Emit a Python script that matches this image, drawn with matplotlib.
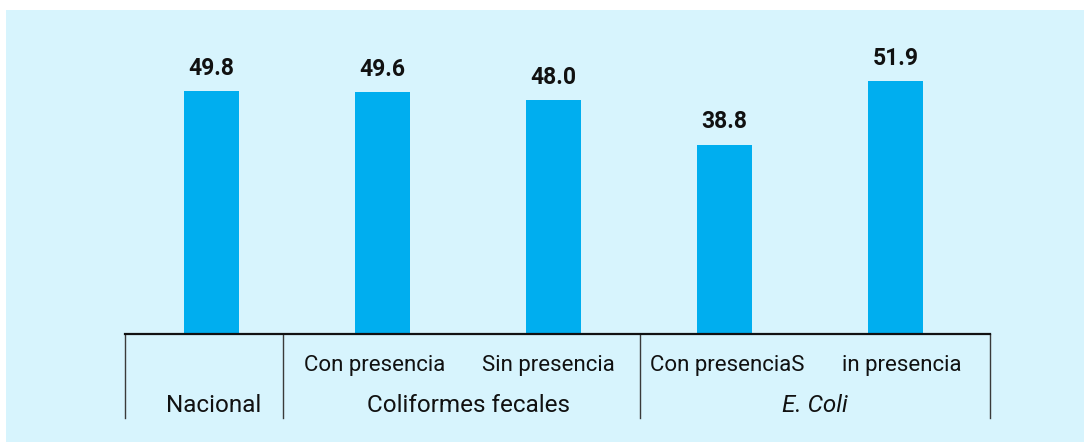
import matplotlib
matplotlib.use('Agg')
from matplotlib import pyplot as plt
from matplotlib.patches import Rectangle

plt.rcParams['font.family'] = ['Roboto', 'DejaVu Sans']

sub_labels = ['', 'Con presencia', 'Sin presencia', 'Con presenciaS', 'in presencia']
values = [49.8, 49.6, 48.0, 38.8, 51.9]
groups = ['Nacional', 'Coliformes fecales', 'E. Coli']
group_bars = [[0], [1, 2], [3, 4]]

bg = '#d7f4fd'
bar_color = '#00aeef'

W, H = 1084, 442
fig = plt.figure(figsize=(W / 100, H / 100), dpi=100)
fig.patches.append(Rectangle((6 / W, 0), 1, 1 - 10 / H, transform=fig.transFigure,
                             facecolor=bg, edgecolor='none', zorder=-5))

# axes box in pixels: left 125, right 990, baseline 333.5, top 10
x0, x1, yb, yt = 125, 990, 333.5, 10
ax = fig.add_axes([x0 / W, (H - yb) / H, (x1 - x0) / W, (yb - yt) / H])
ax.set_facecolor('none')
step = 171.0
c0 = 211.5
ax.set_xlim((x0 - c0) / step, (x1 - c0) / step)
ax.set_ylim(0, (yb - yt) / 4.86)

pos = list(range(len(values)))
bars = ax.bar(pos, values, width=0.32, color=bar_color, zorder=2)
for p, v in zip(pos, values):
    ax.annotate(f'{v:.1f}', (p, v), xytext=(0, 12), textcoords='offset points',
                ha='center', va='baseline', fontsize=16.5, fontweight='bold', color='#111111')

for s in ['top', 'right', 'left']:
    ax.spines[s].set_visible(False)
ax.spines['bottom'].set_linewidth(1.6)
ax.spines['bottom'].set_color('#111111')
ax.spines['bottom'].set_zorder(3)
ax.set_xticks([])
ax.set_yticks([])

# category table below the axis
hpx = yb - yt
def fy(py):
    return (yb - py) / hpx

tr = ax.get_xaxis_transform()
seps = [x0, 282.5, 640, x1]
for sx in seps:
    xd = (sx - c0) / step
    ax.plot([xd, xd], [0, fy(418)], transform=tr, color='#3a3a3a', lw=1.0, clip_on=False)

# small horizontal nudges (pixels) so the labels sit like in the original
sub_dx = [0, -7.5, -5.5, 3, 6.5]
for p, lab, dx in zip(pos, sub_labels, sub_dx):
    if lab:
        ax.annotate(lab, (p, fy(371.5)), xycoords=tr, xytext=(dx, 0), textcoords='offset pixels',
                    ha='center', va='baseline', fontsize=16, color='#111111')

group_dx = [2, 0, 5]
for g, idx, dx in zip(groups, group_bars, group_dx):
    xm = sum(idx) / len(idx)
    style = 'italic' if g == 'E. Coli' else 'normal'
    ax.annotate(g, (xm, fy(411.5)), xycoords=tr, xytext=(dx, 0), textcoords='offset pixels',
                ha='center', va='baseline', fontsize=17.5, style=style, color='#111111')

fig.savefig('out.png', dpi=100, facecolor='white')
